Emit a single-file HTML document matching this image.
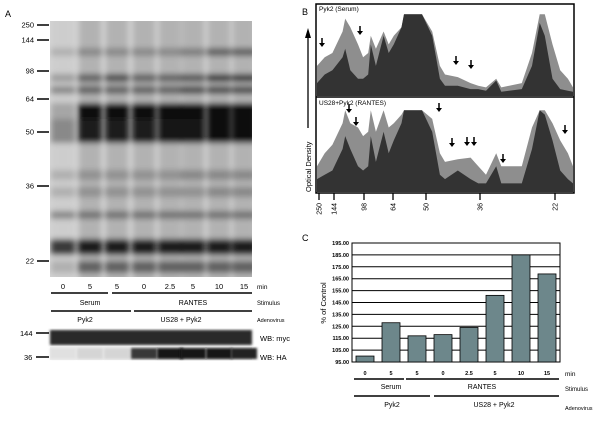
<!DOCTYPE html>
<html><head><meta charset="utf-8"><style>
body{margin:0;background:#fff;font-family:"Liberation Sans",sans-serif}
svg text{font-family:"Liberation Sans",sans-serif}
</style></head><body>
<svg id="fig" width="600" height="418" viewBox="0 0 600 418">
<defs>
<filter id="bl" x="-20%" y="-50%" width="140%" height="200%"><feGaussianBlur stdDeviation="3"/></filter>
<filter id="bl2"><feGaussianBlur stdDeviation="1.2"/></filter>
<clipPath id="blotclip"><rect x="50" y="21" width="202" height="256"/></clipPath>
</defs>
<!-- Panel A -->
<g id="panelA">
<text x="5" y="17" font-size="9">A</text>
<rect x="50" y="21" width="202" height="256" fill="#d4d4d4"/>
<g clip-path="url(#blotclip)"><g id="blot" filter="url(#bl)"></g></g>
<g id="mw" font-size="7.5"></g>
<g id="lanelabels" font-size="7.5"></g>
<rect x="50" y="330" width="202" height="15" fill="#2a2a2a" filter="url(#bl2)"/>
<g id="ha"></g>
<text x="260" y="341" font-size="7.5">WB: myc</text>
<text x="260" y="360" font-size="7.5">WB: HA</text>
<text x="20" y="336" font-size="7.5">144</text>
<line x1="36" y1="333" x2="49" y2="333" stroke="#000" stroke-width="1.5"/>
<text x="24" y="360" font-size="7.5">36</text>
<line x1="36" y1="357" x2="49" y2="357" stroke="#000" stroke-width="1.5"/>
</g>
<!-- Panel B -->
<g id="panelB">
<text x="302" y="15" font-size="9">B</text>
<g id="profiles"></g>
<rect x="316" y="4" width="258" height="189" fill="none" stroke="#000" stroke-width="1.5"/>
<line x1="316" y1="97" x2="574" y2="97" stroke="#000" stroke-width="1.5"/>
<text x="319" y="11" font-size="6.5">Pyk2 (Serum)</text>
<text x="319" y="105" font-size="6.5">US28+Pyk2 (RANTES)</text>
<line x1="308" y1="128" x2="308" y2="35" stroke="#000" stroke-width="1.3"/>
<polygon points="305,38 308,28 311,38" fill="#000"/>
<text transform="translate(311,192) rotate(-90)" font-size="7.5">Optical Density</text>
<g id="btick" font-size="7"></g>
<g id="arrows"></g>
</g>
<!-- Panel C -->
<g id="panelC">
<text x="302" y="241" font-size="9">C</text>
<text transform="translate(326,303) rotate(-90)" font-size="7.5" text-anchor="middle">% of Control</text>
<g id="chart"></g>
</g>
</svg>
<script>
const NS='http://www.w3.org/2000/svg';
function mk(p,t,a){const e=document.createElementNS(NS,t);for(const k in a)e.setAttribute(k,a[k]);p.appendChild(e);return e;}
// ===== Panel C data =====
const categories=['0','5','5','0','2.5','5','10','15'];
const values=[100,128,117,118,124,151,185,169];
const yTicks=[95,105,115,125,135,145,155,165,175,185,195];
const yMin=95,yMax=195,pl=352,pr=560,pt=243,pb=362;
const yS=v=>pb-(v-yMin)/(yMax-yMin)*(pb-pt);
const slot=(pr-pl)/categories.length;
const chart=document.getElementById('chart');
yTicks.forEach(t=>{
  const l=mk(chart,'line',{x1:pl,x2:pr,y1:yS(t),y2:yS(t),stroke:'#000','stroke-width':1});
  
  
  const tx=mk(chart,'text',{x:pl-3,y:yS(t)+2,'font-size':5.5,'text-anchor':'end','font-weight':'bold'});
  tx.textContent=t.toFixed(2);
  
  
});
mk(chart,'rect',{x:pl,y:pt,width:pr-pl,height:pb-pt,fill:'none',stroke:'#000','stroke-width':1});
values.forEach((v,i)=>{
  const x=pl+slot*i+4;
  const r=mk(chart,'rect',{x:x,y:yS(v),width:slot-8,height:pb-yS(v),fill:'#6d878b',stroke:'#000','stroke-width':0.8});
  
  
  const tx=mk(chart,'text',{x:x+(slot-8)/2,y:375,'font-size':5.5,'text-anchor':'middle','font-weight':'bold'});
  tx.textContent=categories[i];
  
  
});
function lbl(p,x,y,s,fs,anchor,name){const t=mk(p,'text',{x:x,y:y,'font-size':fs,'text-anchor':anchor||'start'});t.textContent=s;return t;}
mk(chart,'line',{x1:354,x2:404,y1:379,y2:379,stroke:'#000','stroke-width':1.5});
mk(chart,'line',{x1:406,x2:559,y1:379,y2:379,stroke:'#000','stroke-width':1.5});
mk(chart,'line',{x1:354,x2:430,y1:396,y2:396,stroke:'#000','stroke-width':1.5});
mk(chart,'line',{x1:434,x2:559,y1:396,y2:396,stroke:'#000','stroke-width':1.5});
lbl(chart,391,389,'Serum',7,'middle','serum-label-c');
lbl(chart,482,389,'RANTES',7,'middle','rantes-label-c');
lbl(chart,392,407,'Pyk2',7,'middle','pyk2-label-c');
lbl(chart,494,407,'US28 + Pyk2',7,'middle','us28-pyk2-label-c');
lbl(chart,565,376,'min',6.5,'start','min-label-c');
lbl(chart,565,391,'Stimulus',6,'start','stimulus-label-c');
lbl(chart,565,410,'Adenovirus',5.5,'start','adenovirus-label-c');
// ===== Panel B profiles =====
const profX=[0,.03,.06,.1,.11,.13,.16,.18,.2,.21,.23,.26,.28,.3,.33,.34,.41,.45,.48,.5,.55,.6,.63,.66,.7,.72,.8,.84,.87,.89,.92,.95,.98,1];
const serumLight=[.35,.45,.5,.75,.9,.8,.6,.45,.5,.7,.55,.75,.6,.7,.8,.95,.95,.75,.35,.25,.22,.15,.12,.1,.2,.1,.15,.5,.95,.95,.6,.3,.2,.1];
const serumDark=[.15,.25,.3,.45,.55,.3,.2,.2,.25,.6,.35,.7,.5,.6,.8,.95,.95,.7,.2,.12,.12,.08,.08,.06,.18,.05,.08,.35,.85,.7,.2,.08,.06,.05];
const rantesLight=[.3,.45,.55,.8,.95,.8,.75,.65,.7,.95,.7,.95,.75,.8,.9,.95,.95,.85,.45,.35,.38,.4,.3,.2,.45,.3,.3,.75,.95,.95,.8,.6,.45,.3];
const rantesDark=[.15,.2,.25,.5,.65,.5,.3,.25,.3,.65,.35,.7,.45,.6,.8,.95,.95,.7,.2,.15,.25,.15,.1,.1,.3,.1,.1,.5,.95,.9,.6,.25,.15,.1];
const bx0=317,bw=256;
function prof(arr,top,bot,fill,name){
  let pts=[bx0+','+bot];
  profX.forEach((f,i)=>pts.push((bx0+f*bw).toFixed(1)+','+(bot-arr[i]*(bot-top)).toFixed(1)));
  pts.push((bx0+bw)+','+bot);
  const p=mk(document.getElementById('profiles'),'polygon',{points:pts.join(' '),fill:fill});
  
  
}
prof(serumLight,10,96,'#8e8e8e','serum-profile-total');
prof(serumDark,10,96,'#333','serum-profile-band');
prof(rantesLight,106,192,'#8e8e8e','rantes-profile-total');
prof(rantesDark,106,192,'#333','rantes-profile-band');
const bTickLabels=['250','144','98','64','50','36','22'];
const bTickX=[319,334,364,393,426,480,555];
const bt=document.getElementById('btick');
bTickLabels.forEach((s,i)=>{
  mk(bt,'line',{x1:bTickX[i],x2:bTickX[i],y1:193,y2:200,stroke:'#000','stroke-width':1.3});
  const t=mk(bt,'text',{transform:`translate(${bTickX[i]+2.5},203) rotate(-90)`,'text-anchor':'end'});
  t.textContent=s;
  
  
});
const arrowPos=[[322,46],[360,34],[456,64],[471,68],[349,112],[356,125],[439,111],[452,146],[467,145],[474,145],[503,162],[565,133]];
const ag=document.getElementById('arrows');
arrowPos.forEach(a=>{
  mk(ag,'line',{x1:a[0],x2:a[0],y1:a[1]-8,y2:a[1]-2,stroke:'#000','stroke-width':1.5});
  const p=mk(ag,'polygon',{points:`${a[0]-3},${a[1]-3} ${a[0]+3},${a[1]-3} ${a[0]},${a[1]+1}`,fill:'#000'});
  
  
});
// ===== Panel A blot =====
const laneX=[63,90,117,144,170,193,219,244];
const laneLabels=['0','5','5','0','2.5','5','10','15'];
const bandY=[52,78,90,113,131,175,192,215,247,267];
const bandH=[4,4,4,10,12,5,5,4,8,6];
const bandDark=[[.1,.2,.3,.15,.3,.1,.1,.3,.7,.1],[.3,.5,.5,.95,.85,.25,.25,.4,.85,.5],[.3,.6,.5,.95,.85,.25,.25,.4,.85,.5],[.3,.5,.5,.95,.85,.25,.25,.4,.85,.5],[.3,.5,.5,.95,.9,.25,.25,.4,.85,.5],[.35,.55,.6,.95,.9,.3,.25,.4,.85,.5],[.5,.7,.6,.95,.95,.3,.3,.4,.85,.5],[.5,.7,.6,.95,.95,.3,.3,.4,.85,.5]];
const blot=document.getElementById('blot');
laneX.forEach((x,i)=>{
  const bg=mk(blot,'rect',{x:x-11,y:15,width:22,height:270,fill:i==0?'#cdcdcd':'#b2b2b2'});
  
  
  bandY.forEach((y,j)=>{
    const d=bandDark[i][j],c=Math.round(195-195*d);
    mk(blot,'rect',{x:x-12,y:y-bandH[j],width:24,height:bandH[j]*2,fill:`rgb(${c},${c},${c})`});
  });
  const t=mk(document.getElementById('lanelabels'),'text',{x:x,y:289,'text-anchor':'middle'});
  t.textContent=laneLabels[i];
  
  
});
const mwLabels=['250','144','98','64','50','36','22'];
const mwY=[25,40,71,99,132,186,261];
const mw=document.getElementById('mw');
mwLabels.forEach((s,i)=>{
  mk(mw,'line',{x1:37,x2:49,y1:mwY[i],y2:mwY[i],stroke:'#000','stroke-width':1.5});
  const t=mk(mw,'text',{x:34,y:mwY[i]+2.5,'text-anchor':'end'});
  t.textContent=s;
  
  
});
const haDark=[.05,.1,.1,.8,.95,.95,.95,.9];
const ha=document.getElementById('ha');
mk(ha,'rect',{x:50,y:347,width:202,height:13,fill:'#eee'});
laneX.forEach((x,i)=>{const c=Math.round(235-225*haDark[i]);mk(ha,'rect',{x:x-13,y:348,width:26,height:11,fill:`rgb(${c},${c},${c})`,filter:'url(#bl2)'});});
const L=document.getElementById('lanelabels');
lbl(L,257,289,'min',6.5,'start','min-label-a');
lbl(L,257,305,'Stimulus',6,'start','stimulus-label-a');
lbl(L,257,322,'Adenovirus',5.5,'start','adenovirus-label-a');
lbl(L,90,305,'Serum',7,'middle','serum-label-a');
lbl(L,193,305,'RANTES',7,'middle','rantes-label-a');
lbl(L,85,322,'Pyk2',7,'middle','pyk2-label-a');
lbl(L,181,322,'US28 + Pyk2',7,'middle','us28-pyk2-label-a');
[[51,108,293],[112,252,293],[51,131,311],[134,252,311]].forEach(a=>mk(L,'line',{x1:a[0],x2:a[1],y1:a[2],y2:a[2],stroke:'#000','stroke-width':1.5}));
</script>
</body></html>
